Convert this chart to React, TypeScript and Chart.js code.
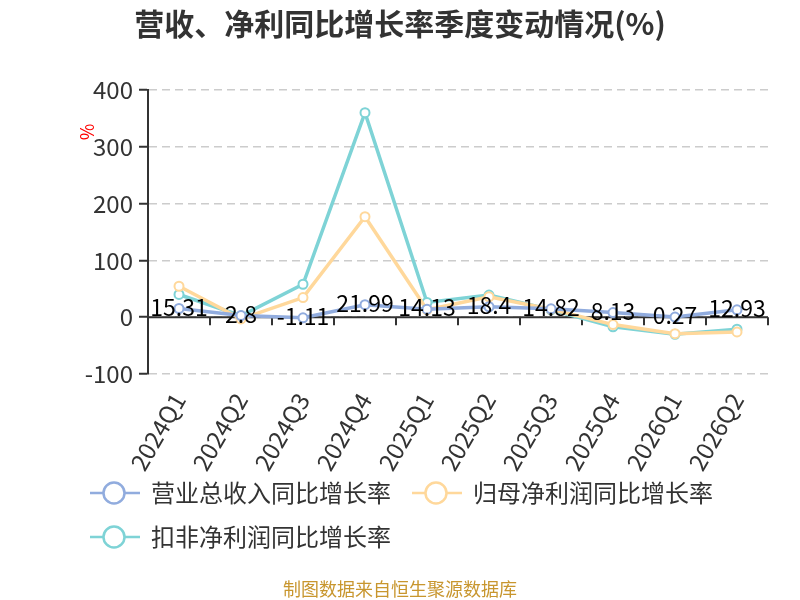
import React, { useRef, useEffect } from "react";
import { Chart, registerables } from "chart.js";

Chart.register(...registerables);

const FONT = '"Noto Sans CJK SC", "Noto Sans", sans-serif';

const title = "营收、净利同比增长率季度变动情况(%)";
const footer = "制图数据来自恒生聚源数据库";
const quarters = ["2024Q1", "2024Q2", "2024Q3", "2024Q4", "2025Q1", "2025Q2", "2025Q3", "2025Q4", "2026Q1", "2026Q2"];
const revenueYoy = [15.31, 2.8, -1.11, 21.99, 14.13, 18.4, 14.82, 8.13, 0.27, 12.93];
const netProfitYoy = [54.5, -3, 34.5, 177, 13, 36, 14, -13, -29, -26];
const deductedYoy = [40, 2.5, 58, 360, 26, 39, 13, -17, -30, -21];
const seriesNames = ["营业总收入同比增长率", "归母净利润同比增长率", "扣非净利润同比增长率"];
const seriesColors = ["#91acde", "#ffd89b", "#7ed3d6"];

const decorPlugin = {
  id: "decor",
  beforeDatasetsDraw(chart: any) {
    const { ctx, chartArea, scales } = chart;
    const y0 = scales.y.getPixelForValue(0);
    const w = (chartArea.right - chartArea.left) / quarters.length;
    ctx.save();
    ctx.strokeStyle = "#333";
    ctx.lineWidth = 2;
    ctx.beginPath();
    ctx.moveTo(chartArea.left, y0);
    ctx.lineTo(chartArea.right, y0);
    for (let i = 0; i <= quarters.length; i++) {
      const x = Math.round(chartArea.left + i * w);
      ctx.moveTo(x, y0);
      ctx.lineTo(x, y0 + 8);
    }
    ctx.stroke();
    ctx.restore();
  },
  afterDatasetsDraw(chart: any) {
    const { ctx } = chart;
    const meta = chart.getDatasetMeta(0);
    ctx.save();
    ctx.font = `23px ${FONT}`;
    ctx.fillStyle = "#000";
    ctx.textAlign = "center";
    ctx.textBaseline = "alphabetic";
    meta.data.forEach((p: any, i: number) => {
      ctx.fillText(String(revenueYoy[i]), p.x, p.y + 7);
    });
    ctx.restore();
  },
  afterDraw(chart: any) {
    const { ctx } = chart;
    ctx.save();
    // title
    ctx.font = `bold 30px ${FONT}`;
    ctx.fillStyle = "#333";
    ctx.textAlign = "center";
    ctx.textBaseline = "middle";
    ctx.fillText(title, 400, 24);

    // y unit
    ctx.save();
    ctx.translate(87, 132);
    ctx.rotate(-Math.PI / 2);
    ctx.font = `18px ${FONT}`;
    ctx.fillStyle = "#ff0000";
    ctx.fillText("%", 0, 0);
    ctx.restore();

    // legend
    const items = [
      { x: 90, y: 493 },
      { x: 412, y: 493 },
      { x: 90, y: 537 },
    ];
    items.forEach((it, i) => {
      ctx.strokeStyle = seriesColors[i];
      ctx.lineWidth = 2.5;
      ctx.beginPath();
      ctx.moveTo(it.x, it.y);
      ctx.lineTo(it.x + 50, it.y);
      ctx.stroke();
      ctx.beginPath();
      ctx.arc(it.x + 24, it.y, 10.5, 0, Math.PI * 2);
      ctx.fillStyle = "#fff";
      ctx.fill();
      ctx.stroke();
      ctx.font = `24px ${FONT}`;
      ctx.fillStyle = "#333";
      ctx.textAlign = "left";
      ctx.textBaseline = "middle";
      ctx.fillText(seriesNames[i], it.x + 61, it.y);
    });

    // footer
    ctx.font = `18px ${FONT}`;
    ctx.fillStyle = "#c8962e";
    ctx.textAlign = "center";
    ctx.textBaseline = "middle";
    ctx.fillText(footer, 400, 589);
    ctx.restore();
  },
};

const makeDataset = (label: string, data: number[], color: string) => ({
  label,
  data,
  borderColor: color,
  backgroundColor: color,
  borderWidth: 3.5,
  pointRadius: 4.5,
  pointBorderWidth: 2,
  pointBackgroundColor: "#fff",
  pointBorderColor: color,
  tension: 0,
});

const App = () => {
  const canvasRef = useRef<HTMLCanvasElement>(null);

  useEffect(() => {
    if (!canvasRef.current) return;
    const chart = new Chart(canvasRef.current, {
      type: "line",
      data: {
        labels: quarters,
        datasets: [
          makeDataset(seriesNames[0], revenueYoy, seriesColors[0]),
          makeDataset(seriesNames[1], netProfitYoy, seriesColors[1]),
          makeDataset(seriesNames[2], deductedYoy, seriesColors[2]),
        ],
      },
      options: {
        responsive: false,
        animation: false,
        devicePixelRatio: 1,
        layout: { padding: { top: 90, left: 0, right: 32, bottom: 0 } },
        plugins: {
          legend: { display: false },
          title: { display: false },
          tooltip: { enabled: false },
        },
        scales: {
          x: {
            type: "category",
            offset: true,
            grid: { display: false, drawTicks: false },
            border: { display: false },
            ticks: {
              autoSkip: false,
              maxRotation: 60,
              minRotation: 60,
              padding: 14,
              color: "#333",
              font: { family: FONT, size: 24 },
            },
            afterFit: (s: any) => {
              s.height = 226;
            },
          },
          y: {
            min: -100,
            max: 400,
            ticks: {
              stepSize: 100,
              padding: 6,
              color: "#333",
              font: { family: FONT, size: 24 },
            },
            grid: {
              color: "#ccc",
              lineWidth: 1.5,
              tickLength: 9,
              tickColor: "#333",
              tickWidth: 2,
              tickBorderDash: [],
            },
            border: { display: true, color: "#333", width: 2, dash: [8, 5] },
            afterFit: (s: any) => {
              s.width = 148;
            },
          },
        },
      },
      plugins: [decorPlugin],
    } as any);
    return () => {
      chart.destroy();
    };
  }, []);

  return (
    <canvas
      ref={canvasRef}
      width={800}
      height={600}
      style={{ position: "absolute", left: 0, top: 0, width: 800, height: 600 }}
    />
  );
};

export default App;
